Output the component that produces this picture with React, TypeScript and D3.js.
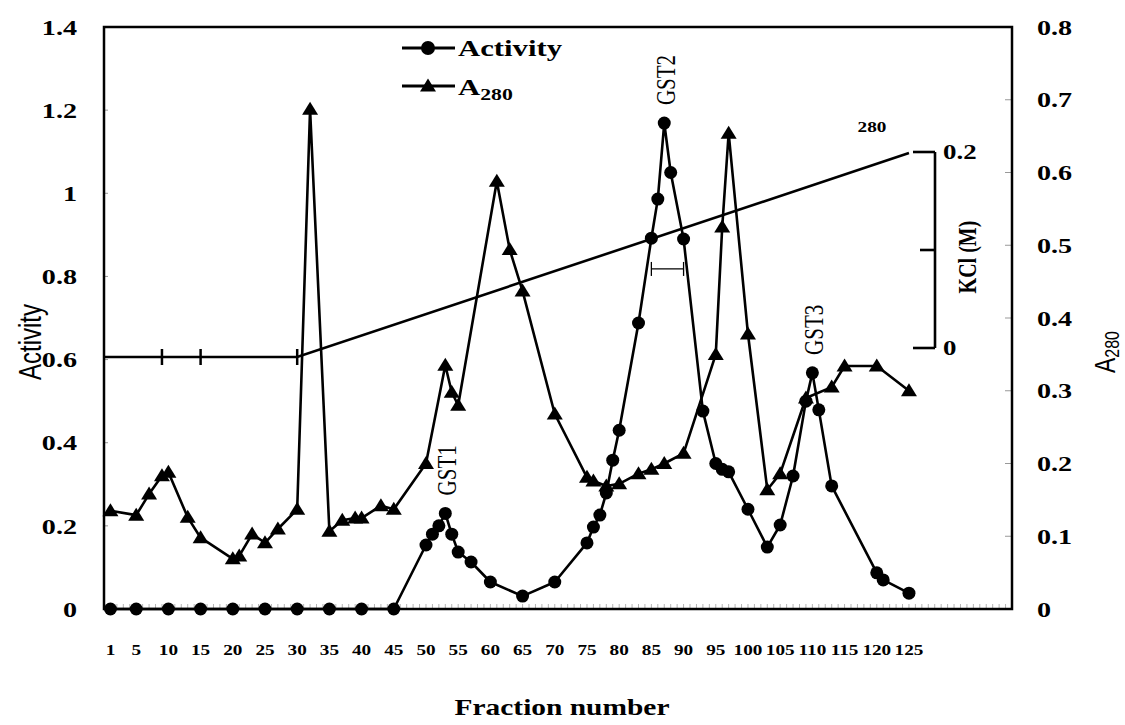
import React from "react";
import * as d3 from "d3";

// fraction number / activity (circles, left axis)
const activityFraction = [1, 5, 10, 15, 20, 25, 30, 35, 40, 45, 50, 51, 52, 53, 54, 55, 57, 60, 65, 70, 75, 76, 77, 78, 79, 80, 83, 85, 86, 87, 88, 90, 93, 95, 96, 97, 100, 103, 105, 107, 109, 110, 111, 113, 120, 121, 125];
const activityValue = [0, 0, 0, 0, 0, 0, 0, 0, 0, 0, 0.154, 0.18, 0.2, 0.23, 0.18, 0.137, 0.113, 0.065, 0.031, 0.065, 0.159, 0.197, 0.226, 0.279, 0.358, 0.43, 0.688, 0.892, 0.986, 1.169, 1.05, 0.89, 0.476, 0.35, 0.336, 0.33, 0.24, 0.149, 0.202, 0.32, 0.5, 0.568, 0.479, 0.296, 0.087, 0.07, 0.038];

// fraction number / A280 (triangles, right axis)
const a280Fraction = [1, 5, 7, 9, 10, 13, 15, 20, 21, 23, 25, 27, 30, 32, 35, 37, 39, 40, 43, 45, 50, 53, 54, 55, 61, 63, 65, 70, 75, 76, 78, 80, 83, 85, 87, 90, 95, 96, 97, 100, 103, 105, 109, 113, 115, 120, 125];
const a280Value = [0.135, 0.129, 0.158, 0.183, 0.188, 0.126, 0.098, 0.069, 0.073, 0.103, 0.091, 0.11, 0.137, 0.687, 0.107, 0.122, 0.125, 0.125, 0.142, 0.137, 0.2, 0.335, 0.298, 0.28, 0.588, 0.494, 0.437, 0.268, 0.181, 0.176, 0.169, 0.172, 0.186, 0.192, 0.2, 0.214, 0.35, 0.525, 0.654, 0.378, 0.164, 0.186, 0.29, 0.305, 0.334, 0.334, 0.3];

// KCl gradient
const kclFraction = [0, 9, 15, 30, 125];
const kclValue = [0, 0, 0, 0, 0.2];
const kclMarkFractions = [9, 15, 30];

const xTickLabels = [1, 5, 10, 15, 20, 25, 30, 35, 40, 45, 50, 55, 60, 65, 70, 75, 80, 85, 90, 95, 100, 105, 110, 115, 120, 125];
const leftTicks = [0, 0.2, 0.4, 0.6, 0.8, 1, 1.2, 1.4];
const rightTicks = [0, 0.1, 0.2, 0.3, 0.4, 0.5, 0.6, 0.7, 0.8];
const kclTicks = [0, 0.1, 0.2];
const kclTickLabels = ["0", "", "0.2"];

const peakNames = ["GST1", "GST2", "GST3"];
const peakFractions = [53, 87, 110];
const peakValues = [0.23, 1.169, 0.568];

const errorBarFrom = 85;
const errorBarTo = 90;
const errorBarValue = 0.818;

const SERIF = "'Liberation Serif', 'Times New Roman', serif";
const SANS = "'Liberation Sans', Arial, sans-serif";
const SX = 1.28;

const T = ({ x, y, size, children, anchor = "start", weight = "normal", family = SERIF, rot = false, dy = "0" }: any) => (
  <text
    transform={`translate(${x},${y}) scale(${SX},1)${rot ? " rotate(-90)" : ""}`}
    textAnchor={anchor}
    fontSize={size}
    fontWeight={weight}
    fontFamily={family}
    dy={dy}
    fill="#000"
  >
    {children}
  </text>
);

const tri = (cx: number, cy: number) => `M${cx},${cy - 7.5}L${cx + 8},${cy + 5.5}L${cx - 8},${cy + 5.5}Z`;

export default function App() {
  const left = 104, right = 1012, top = 27, bottom = 609;
  const x = d3.scaleLinear().domain([0, 141]).range([left, right]);
  const yL = d3.scaleLinear().domain([0, 1.4]).range([bottom, top]);
  const yR = d3.scaleLinear().domain([0, 0.8]).range([bottom, top]);
  const yK = d3.scaleLinear().domain([0, 0.2]).range([357, 153]);
  const yKaxis = d3.scaleLinear().domain([0, 0.2]).range([348, 152]);

  const activity = activityFraction.map((f, i) => [x(f), yL(activityValue[i])] as [number, number]);
  const a280 = a280Fraction.map((f, i) => [x(f), yR(a280Value[i])] as [number, number]);
  const kcl = kclFraction.map((f, i) => [x(f), yK(kclValue[i])] as [number, number]);
  const line = d3.line();
  const minor = d3.range(1, 141);
  const kx = 935;

  return (
    <svg width={1125} height={725} style={{ position: "absolute", left: 0, top: 0, background: "#fff" }}>
      <rect x={0} y={0} width={1125} height={725} fill="#fff" />
      {/* minor x ticks */}
      {minor.map((f) => (
        <line key={f} x1={x(f)} x2={x(f)} y1={bottom} y2={bottom - 5} stroke="#b5b5b5" strokeWidth={1} />
      ))}
      {leftTicks.map((t) => (
        <line key={t} x1={left} x2={left + 4} y1={yL(t)} y2={yL(t)} stroke="#999" strokeWidth={1} />
      ))}
      {rightTicks.map((t) => (
        <line key={t} x1={right - 7} x2={right} y1={yR(t)} y2={yR(t)} stroke="#999" strokeWidth={1} />
      ))}
      <rect x={left} y={top} width={right - left} height={bottom - top} fill="none" stroke="#000" strokeWidth={2.5} />

      {/* KCl gradient */}
      <path d={line(kcl) || ""} fill="none" stroke="#000" strokeWidth={2.6} />
      {kclMarkFractions.map((f) => (
        <line key={f} x1={x(f)} x2={x(f)} y1={yK(0) - 8} y2={yK(0) + 8} stroke="#000" strokeWidth={2.5} />
      ))}
      {/* KCl axis bracket */}
      <line x1={kx} x2={kx} y1={yKaxis(0)} y2={yKaxis(0.2)} stroke="#000" strokeWidth={2.6} />
      {kclTicks.map((t) => (
        <line key={t} x1={t === 0.1 ? kx - 15 : kx - 22} x2={kx} y1={yKaxis(t)} y2={yKaxis(t)} stroke="#000" strokeWidth={2.6} />
      ))}
      {kclTicks.map((t, i) =>
        kclTickLabels[i] ? (
          <T key={t} x={kx + 8} y={yKaxis(t)} size={21} weight="bold" dy="0.35em">{kclTickLabels[i]}</T>
        ) : null
      )}
      <T x={967} y={257} size={20} weight="bold" rot anchor="middle" dy="0.35em">KCl (M)</T>
      <T x={872} y={132} size={15} weight="bold" anchor="middle">280</T>

      {/* error bar */}
      <line x1={x(errorBarFrom)} x2={x(errorBarTo)} y1={yL(errorBarValue)} y2={yL(errorBarValue)} stroke="#000" strokeWidth={1.3} />
      {[errorBarFrom, errorBarTo].map((f) => (
        <line key={f} x1={x(f)} x2={x(f)} y1={yL(errorBarValue) - 7} y2={yL(errorBarValue) + 7} stroke="#000" strokeWidth={1.3} />
      ))}

      {/* A280 series */}
      <path d={line(a280) || ""} fill="none" stroke="#000" strokeWidth={2.6} strokeLinejoin="round" />
      {a280.map(([cx, cy], i) => (
        <path key={i} d={tri(cx, cy)} fill="#000" />
      ))}
      {/* Activity series */}
      <path d={line(activity) || ""} fill="none" stroke="#000" strokeWidth={2.6} strokeLinejoin="round" />
      {activity.map(([cx, cy], i) => (
        <circle key={i} cx={cx} cy={cy} r={6.5} fill="#000" />
      ))}

      {/* peak labels */}
      {peakNames.map((n, i) => (
        <T key={n} x={x(peakFractions[i]) + 1} y={yL(peakValues[i]) - 43} size={21} rot anchor="middle" dy="0.35em">{n}</T>
      ))}

      {/* left axis labels */}
      {leftTicks.map((t) => (
        <T key={t} x={77} y={yL(t)} size={22} weight="bold" anchor="end" dy="0.35em">{d3.format("~g")(t)}</T>
      ))}
      {/* right axis labels */}
      {rightTicks.map((t) => (
        <T key={t} x={1037} y={yR(t)} size={22} weight="bold" dy="0.35em">{d3.format("~g")(t)}</T>
      ))}
      {/* x tick labels */}
      {xTickLabels.map((t) => (
        <T key={t} x={x(t)} y={655} size={15} weight="bold" anchor="middle">{t}</T>
      ))}

      <T x={562} y={715} size={23} weight="bold" anchor="middle">Fraction number</T>
      <T x={30} y={342} size={24} family={SANS} rot anchor="middle" dy="0.35em">Activity</T>
      <text transform={`translate(1115,352) scale(${SX},1) rotate(-90)`} textAnchor="middle" fontFamily={SANS} fontSize={23}>
        A<tspan fontSize={16} dy="3">280</tspan>
      </text>

      {/* legend */}
      <line x1={402} x2={455} y1={48} y2={48} stroke="#000" strokeWidth={3} />
      <circle cx={428} cy={48} r={7} fill="#000" />
      <T x={458} y={56} size={24} weight="bold">Activity</T>
      <line x1={402} x2={455} y1={86} y2={86} stroke="#000" strokeWidth={3} />
      <path d={tri(428, 86)} fill="#000" />
      <text transform={`translate(458,95) scale(${SX},1)`} fontFamily={SERIF} fontWeight="bold" fontSize={24}>
        A<tspan fontSize={17} dy="5">280</tspan>
      </text>
    </svg>
  );
}
